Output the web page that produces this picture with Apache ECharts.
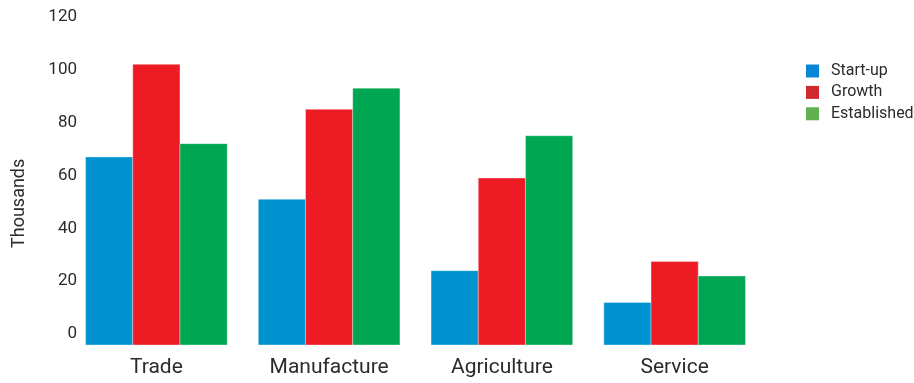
<!DOCTYPE html>
<html>
<head>
<meta charset="utf-8">
<script src="https://cdn.jsdelivr.net/npm/echarts@6/dist/echarts.min.js"></script>
<style>html,body{margin:0;padding:0;background:#fff}#c{width:914px;height:383px}</style>
</head>
<body>
<div id="c"></div>
<script>
const categories = ['Trade', 'Manufacture', 'Agriculture', 'Service'];
const seriesNames = ['Start-up', 'Growth', 'Established'];
const startUp = [67, 51, 24, 12];
const growth = [102, 85, 59, 27.5];
const established = [72, 93, 75, 22];
const yTicks = [0, 20, 40, 60, 80, 100, 120];

const barColors = ['#0093d0', '#ed1c24', '#00a651'];
const legendColors = ['#0a86d6', '#d02a2e', '#62b04f'];
const FONT = "'Roboto', sans-serif";
const TEXT = '#2b2b2b';
const Y_MIN = -4.1, Y_MAX = 120;
const GAP = 0.18;

function renderItem(params, api) {
  const cat = api.value(0);
  const v = api.value(1);
  const top = api.coord([cat, v]);
  const base = api.coord([cat, Y_MIN]);
  const band = api.size([1, 0])[0];
  const group = band * (1 - GAP);
  const w = group / 3;
  const x = top[0] - group / 2 + params.seriesIndex * w;
  return {
    type: 'rect',
    shape: { x: x, y: top[1], width: w, height: base[1] - top[1] },
    style: api.style({ stroke: 'rgba(255,255,255,0.35)', lineWidth: 1 })
  };
}

const dataSets = [startUp, growth, established];
const chart = echarts.init(document.getElementById('c'), null, { renderer: 'canvas' });
chart.setOption({
  animation: false,
  backgroundColor: '#fff',
  color: barColors,
  grid: { left: 70, right: 153, top: 16.7, bottom: 38, outerBoundsMode: 'none', containLabel: false },
  legend: {
    orient: 'vertical',
    left: 801, top: 58,
    itemWidth: 13, itemHeight: 13, itemGap: 5.4,
    icon: 'rect',
    data: seriesNames.map((n, i) => ({ name: n, itemStyle: { color: legendColors[i] } })),
    textStyle: { fontFamily: FONT, fontSize: 16, color: TEXT, padding: [0, 0, 0, 7] }
  },
  xAxis: {
    type: 'category',
    data: categories,
    axisLine: { show: false },
    axisTick: { show: false },
    axisLabel: { fontFamily: FONT, fontSize: 21, color: TEXT, margin: 12 }
  },
  yAxis: {
    type: 'value',
    min: Y_MIN, max: Y_MAX,
    name: 'Thousands',
    nameLocation: 'middle',
    nameRotate: 90,
    nameGap: 42,
    nameTextStyle: { fontFamily: FONT, fontSize: 18, color: TEXT, padding: [0, 45, 0, 0] },
    axisLine: { show: false },
    axisTick: { show: false },
    splitLine: { show: false },
    axisLabel: { customValues: yTicks, fontFamily: FONT, fontSize: 17, color: TEXT, margin: -7 }
  },
  series: dataSets.map((d, i) => ({
    name: seriesNames[i],
    type: 'custom',
    renderItem: renderItem,
    itemStyle: { color: barColors[i] },
    encode: { x: 0, y: 1 },
    data: d.map((v, j) => [j, v])
  }))
});
</script>
</body>
</html>
